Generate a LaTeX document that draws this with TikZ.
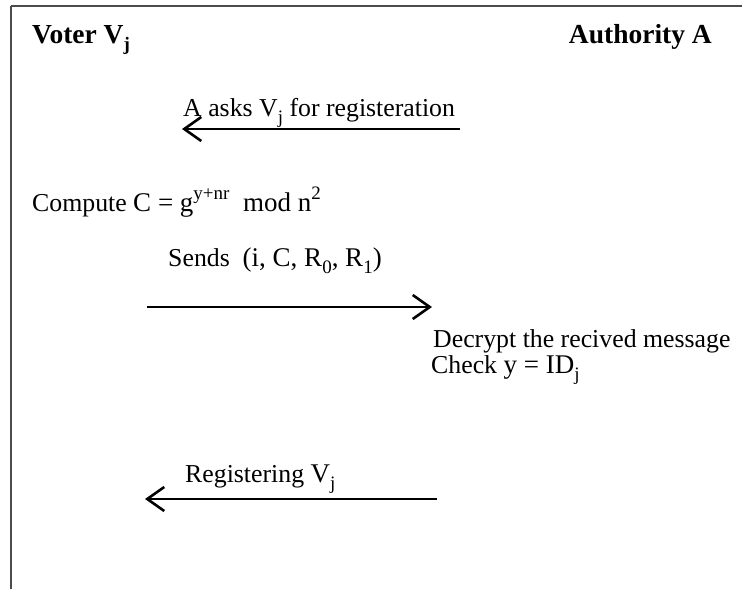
\documentclass[tikz,border=0pt]{standalone}
\usepackage{fontspec}
\setmainfont{Liberation Serif}
\usetikzlibrary{arrows.meta}
\newcommand{\sbj}[1]{\raisebox{-0.28em}{\fontsize{19}{21}\selectfont #1}}
\newcommand{\spx}[1]{\raisebox{0.42em}{\fontsize{19}{21}\selectfont #1}}
\newcommand{\mth}[1]{{\fontsize{27}{30}\selectfont #1}}
\tikzset{
  txt/.style={anchor=base west, inner sep=0pt, font=\fontsize{25.8}{30}\selectfont},
  head/.style={inner sep=0pt, font=\fontsize{27.5}{32}\selectfont\bfseries},
  msg/.style={line width=2.6pt, -{Straight Barb[length=17pt,width=24pt,line width=2.6pt]}},
  frame/.style={draw=black!70}
}
\begin{document}
\begin{tikzpicture}[x=1pt,y=-1pt]
\useasboundingbox (0,0) rectangle (742,589);
% frame
\coordinate (fl) at (11,589);
\coordinate (tl) at (11,6);
\coordinate (tr) at (742,6);
\draw[frame,line width=2pt] (tl) -- (tr);
\draw[frame,line width=1.5pt] (tl) -- (fl);
% headers
\node[head,anchor=base west] (voter) at (32,43) {Voter V\sbj{j}};
\node[head,anchor=base east] (auth) at (712,43) {Authority A};
% message 1
\node[txt] (m1) at (183,116) {A asks V\sbj{j} for registeration};
\coordinate (a1s) at (460,129);
\coordinate (a1e) at (182,129);
\draw[msg] (a1s) -- (a1e);
% compute
\node[txt] (comp) at (32,211) {Compute \mth{C = g\spx{y+nr}\ \ mod n\spx{2}}};
% message 2
\node[txt] (m2) at (168,266) {Sends\ \ \mth{(i, C, R\sbj{0}, R\sbj{1})}};
\coordinate (a2s) at (147,307);
\coordinate (a2e) at (432,307);
\draw[msg] (a2s) -- (a2e);
% authority checks
\node[txt] (dec) at (433,347) {Decrypt the recived message};
\node[txt] (chk) at (431,373) {Check \mth{y = ID\sbj{j}}};
% message 3
\node[txt] (m3) at (185,482) {Registering \mth{V\sbj{j}}};
\coordinate (a3s) at (437,499);
\coordinate (a3e) at (145,499);
\draw[msg] (a3s) -- (a3e);
\end{tikzpicture}
\end{document}
